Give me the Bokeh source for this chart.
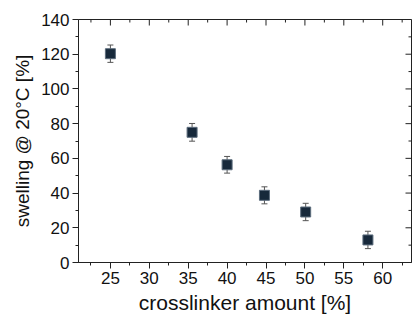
import math
from bokeh.plotting import figure
from bokeh.models import ColumnDataSource, Whisker, TeeHead, FixedTicker, Range1d
from bokeh.embed import file_html
from bokeh.resources import INLINE

# Data
crosslinker = [25.0, 35.5, 40.0, 44.8, 50.1, 58.1]
swelling = [120.3, 75.0, 56.3, 38.7, 29.1, 13.0]
swelling_err = [5.0, 5.1, 4.8, 4.9, 5.0, 5.0]

x_ticks = [25, 30, 35, 40, 45, 50, 55, 60]
x_minor = [22.5, 27.5, 32.5, 37.5, 42.5, 47.5, 52.5, 57.5, 62.5]
y_ticks = [0, 20, 40, 60, 80, 100, 120, 140]
y_minor = [10, 30, 50, 70, 90, 110, 130]

X0, X1 = 20.9, 63.7
Y0, Y1 = 0, 140

lower = [v - e for v, e in zip(swelling, swelling_err)]
upper = [v + e for v, e in zip(swelling, swelling_err)]
src = ColumnDataSource(dict(x=crosslinker, y=swelling, lower=lower, upper=upper))

FONT = "Liberation Sans"
TXT = "#111111"
AX = "#222222"

p = figure(width=413, height=316, output_backend="svg", toolbar_location=None,
           x_range=Range1d(X0, X1), y_range=Range1d(Y0, Y1),
           min_border_left=78, min_border_right=2, min_border_top=19,
           min_border_bottom=52)
p.grid.visible = False
p.outline_line_color = AX
p.outline_line_width = 1
p.background_fill_color = "white"
p.border_fill_color = "white"

for ax, ticks, minor in ((p.xaxis[0], x_ticks, x_minor), (p.yaxis[0], y_ticks, y_minor)):
    ax.ticker = FixedTicker(ticks=ticks, minor_ticks=minor)
    ax.axis_line_color = AX
    ax.major_tick_line_color = AX
    ax.minor_tick_line_color = AX
    ax.major_tick_in = 0
    ax.major_tick_out = 6
    ax.minor_tick_in = 0
    ax.minor_tick_out = 3
    ax.major_label_text_font = FONT
    ax.major_label_text_font_size = "17px"
    ax.major_label_text_color = TXT
    ax.major_label_standoff = 3
    ax.axis_label_text_font = FONT
    ax.axis_label_text_font_style = "normal"
    ax.axis_label_text_color = TXT

p.xaxis[0].axis_label = "crosslinker amount [%]"
p.xaxis[0].axis_label_text_font_size = "21px"
p.xaxis[0].axis_label_standoff = 4
p.yaxis[0].axis_label = "swelling @ 20°C [%]"
p.yaxis[0].axis_label_text_font_size = "19px"
p.yaxis[0].axis_label_standoff = 5

# mirrored inward ticks on top and right (dash markers clipped by the frame)
p.scatter(x=x_ticks, y=[Y1] * len(x_ticks), marker="dash", size=12,
          angle=math.pi / 2, line_color=AX, line_width=1)
p.scatter(x=x_minor, y=[Y1] * len(x_minor), marker="dash", size=6,
          angle=math.pi / 2, line_color=AX, line_width=1)
p.scatter(x=[X1] * len(y_ticks), y=y_ticks, marker="dash", size=12,
          line_color=AX, line_width=1)
p.scatter(x=[X1] * len(y_minor), y=y_minor, marker="dash", size=6,
          line_color=AX, line_width=1)

p.add_layout(Whisker(source=src, base="x", lower="lower", upper="upper",
                     line_color="#555555", line_width=1,
                     lower_head=TeeHead(size=6, line_color="#555555", line_width=1),
                     upper_head=TeeHead(size=6, line_color="#555555", line_width=1)))

p.scatter("x", "y", source=src, marker="square", size=10,
          fill_color="#17293b", line_color="#5d6d7d", line_width=1)

open("out.html", "w").write(file_html(p, INLINE))
